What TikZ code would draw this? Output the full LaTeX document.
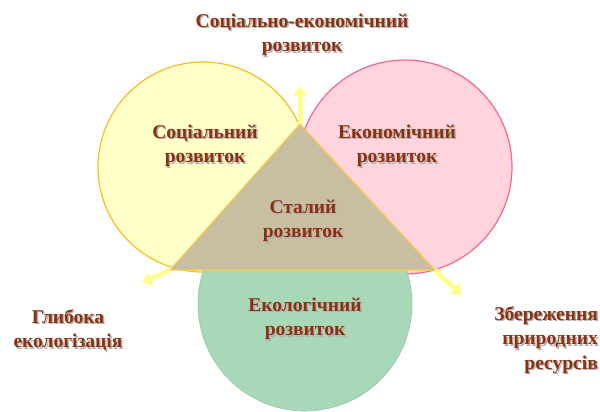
\documentclass[tikz,border=0pt]{standalone}
\usepackage{fontspec}
\setmainfont{Liberation Serif}
\usetikzlibrary{arrows.meta,calc}
\definecolor{txt}{HTML}{8B3010}
\definecolor{yfill}{HTML}{FFFFC8}
\definecolor{yline}{HTML}{F5C020}
\definecolor{pfill}{HTML}{FFD4DC}
\definecolor{pline}{HTML}{F06890}
\definecolor{gfill}{HTML}{A8D8B8}
\definecolor{tfill}{HTML}{C8BEA2}
\definecolor{arr}{HTML}{FFFF90}
\tikzset{
  lbl/.style={font=\bfseries\fontsize{19.5}{24.5}\selectfont, text=txt, align=center, inner sep=0pt},
  shd/.style={font=\bfseries\fontsize{19.5}{24.5}\selectfont, text=black!30, align=center, inner sep=0pt},
  yarrow/.style={draw=arr, line width=5pt, -{Triangle[length=10pt,width=14pt]}},
}
\newcommand{\shlabel}[5][center]{%
  \node[shd,align=#1,anchor=#2] at ($(#3)+(1.5,1.5)$) {#5};
  \node[lbl,align=#1,anchor=#2] (#4) at (#3) {#5};}
\begin{document}
\begin{tikzpicture}[x=1pt,y=-1pt]
\useasboundingbox (0,0) rectangle (600,412);
% circles
\fill[yfill] (203,167) circle (105);
\draw[yline,line width=1.2pt] (203,167) circle (105);
\fill[pfill] (405,167) circle (107);
\draw[pline,line width=1.2pt] (405,167) circle (107);
\fill[gfill] (305,304) circle (107);
\draw[gfill!90!black,line width=0.6pt] (305,304) circle (107);
% triangle
\coordinate (A) at (300,124);
\coordinate (B) at (170,270);
\coordinate (C) at (435,270);
\coordinate (Aup) at (300,86);
\coordinate (Bl) at (142,283);
\coordinate (Cr) at (462,295);
\filldraw[fill=tfill,draw=yline!80!white,line width=1.2pt] (A) -- (B) -- (C) -- cycle;
\draw[yarrow] (A) -- (Aup);
\draw[yarrow] (B) -- (Bl);
\draw[yarrow] (C) -- (Cr);
% labels
\shlabel{center}{302,35}{top}{Соціально-економічний\\розвиток}
\shlabel{center}{205,146}{soc}{Соціальний\\розвиток}
\shlabel{center}{397,146}{eco}{Економічний\\розвиток}
\shlabel{center}{303,221}{st}{Сталий\\розвиток}
\shlabel{center}{305,319}{ecol}{Екологічний\\розвиток}
\shlabel{center}{68,330}{gl}{Глибока\\екологізація}
\shlabel[right]{east}{598,340}{zb}{Збереження\\природних\\ресурсів}
\end{tikzpicture}
\end{document}
